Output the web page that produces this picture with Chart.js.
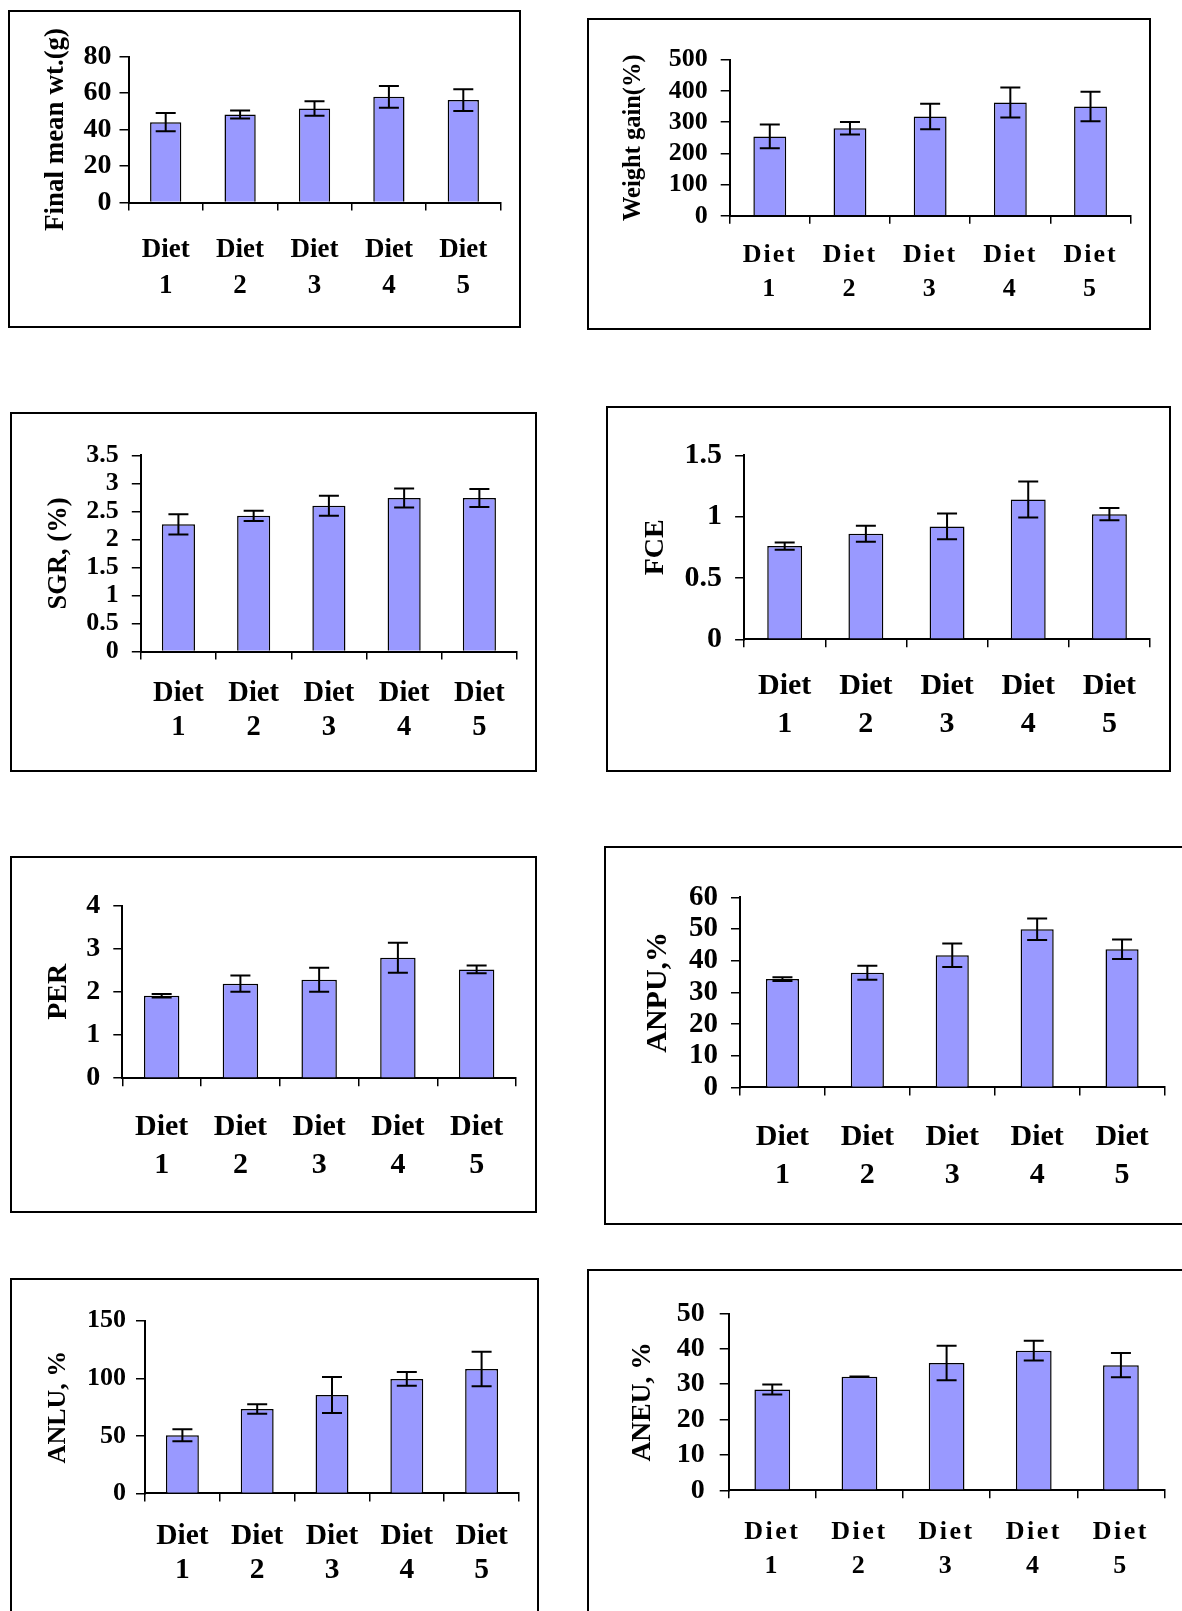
<!DOCTYPE html>
<html>
<head>
<meta charset="utf-8">
<title>Growth and nutrient utilisation by diet</title>
<script src="https://cdn.jsdelivr.net/npm/chart.js@4.4.1/dist/chart.umd.min.js"></script>
<style>
    html, body { margin: 0; padding: 0; background: #fff; }
    body { position: relative; width: 1182px; height: 1611px; overflow: hidden; }
    .frame { position: absolute; border: 2px solid #000; box-sizing: border-box; }
    canvas { position: absolute; }
</style>
</head>
<body>
<script>
// Diet groups on every x axis
const diets = ['Diet 1', 'Diet 2', 'Diet 3', 'Diet 4', 'Diet 5'];

// Means and +/- error
const finalWt = [44.0, 48.2, 51.5, 57.9, 56.1];
const finalWtErr = [5.0, 2.2, 4.0, 6.0, 6.0];
const weightGain = [254, 280, 318, 363, 350];
const weightGainErr = [38, 20, 41, 48, 47];
const sgr = [2.27, 2.42, 2.60, 2.74, 2.74];
const sgrErr = [0.18, 0.09, 0.18, 0.17, 0.16];
const fce = [0.76, 0.86, 0.92, 1.14, 1.02];
const fceErr = [0.03, 0.065, 0.105, 0.147, 0.05];
const per = [1.91, 2.19, 2.28, 2.79, 2.52];
const perErr = [0.04, 0.19, 0.28, 0.35, 0.09];
const anpu = [34.2, 36.2, 41.7, 49.9, 43.6];
const anpuErr = [0.6, 2.2, 3.7, 3.4, 3.1];
const anlu = [50.6, 73.3, 85.5, 99.4, 108.1];
const anluErr = [5.2, 4.2, 15.7, 6.0, 15.0];
const aneu = [28.5, 32.1, 36.0, 39.5, 35.4];
const aneuErr = [1.4, 0.05, 4.9, 2.8, 3.4];

// Y tick labels
const finalWtTicks = [0, 20, 40, 60, 80];
const weightGainTicks = [0, 100, 200, 300, 400, 500];
const sgrTicks = [0, 0.5, 1, 1.5, 2, 2.5, 3, 3.5];
const fceTicks = [0, 0.5, 1, 1.5];
const perTicks = [0, 1, 2, 3, 4];
const anpuTicks = [0, 10, 20, 30, 40, 50, 60];
const anluTicks = [0, 50, 100, 150];
const aneuTicks = [0, 10, 20, 30, 40, 50];

const FONT = "'Liberation Serif', 'Times New Roman', serif";
const BAR_COLOR = '#9999FF';

// error bars; also turns on letter spacing for the x labels,
// which are drawn after the datasets (ticks.z = 1)
const errorBars = {
    id: 'errorBars',
    afterDatasetsDraw(chart, args, opts) {
        const ctx = chart.ctx;
        const yScale = chart.scales.y;
        const vals = chart.data.datasets[0].data;
        const meta = chart.getDatasetMeta(0);
        ctx.save();
        ctx.strokeStyle = '#000';
        ctx.lineWidth = 2;
        meta.data.forEach((bar, i) => {
            const top = yScale.getPixelForValue(vals[i] + opts.errors[i]);
            const bot = yScale.getPixelForValue(vals[i] - opts.errors[i]);
            const hw = opts.capWidth / 2;
            ctx.beginPath();
            ctx.moveTo(bar.x, top); ctx.lineTo(bar.x, bot);
            ctx.moveTo(bar.x - hw, top); ctx.lineTo(bar.x + hw, top);
            ctx.moveTo(bar.x - hw, bot); ctx.lineTo(bar.x + hw, bot);
            ctx.stroke();
        });
        ctx.restore();
        ctx.letterSpacing = (opts.letterSpacing || 0) + 'px';
    },
    afterDraw(chart) {
        chart.ctx.letterSpacing = '0px';
    }
};

const panels = [
    { title: 'Final mean wt.(g)', values: finalWt, errors: finalWtErr, ticks: finalWtTicks,
      box: [8, 10, 521, 328], axis: [128.5, 56.5, 500.5, 202.5], titleX: 56.5,
      titleFs: 27, tickFs: 28, tickPad: 8, xFs: 27, labelY: 249.7, gap: 36, bar: 0.42, spacing: 0 },
    { title: 'Weight gain(%)', values: weightGain, errors: weightGainErr, ticks: weightGainTicks,
      box: [587, 17.5, 1151, 330], axis: [729.7, 59.6, 1130.6, 215.8], titleX: 634,
      titleFs: 24.5, tickFs: 26, tickPad: 13, xFs: 26, labelY: 255.5, gap: 34, bar: 0.41, spacing: 2 },
    { title: 'SGR, (%)', values: sgr, errors: sgrErr, ticks: sgrTicks,
      box: [10, 412, 536.5, 772], axis: [140.8, 455.3, 517, 651.6], titleX: 59.6,
      titleFs: 26.5, tickFs: 26, tickPad: 13, xFs: 28.5, labelY: 693.7, gap: 34, bar: 0.44, spacing: 0 },
    { title: 'FCE', values: fce, errors: fceErr, ticks: fceTicks,
      box: [606, 406, 1170.6, 772], axis: [744.1, 455.3, 1150, 639.3], titleX: 655.7,
      titleFs: 28, tickFs: 30, tickPad: 13, xFs: 30, labelY: 686.5, gap: 38, bar: 0.43, spacing: 0 },
    { title: 'PER', values: per, errors: perErr, ticks: perTicks,
      box: [10, 856, 536.5, 1213], axis: [122.3, 905.5, 516, 1078.2], titleX: 58.6,
      titleFs: 28, tickFs: 28, tickPad: 13, xFs: 30, labelY: 1127.5, gap: 38, bar: 0.45, spacing: 0 },
    { title: 'ANPU,%', values: anpu, errors: anpuErr, ticks: anpuTicks,
      box: [604, 846, 1200, 1225], axis: [740, 897.3, 1164.5, 1087.4], titleX: 657.8,
      titleFs: 30, tickFs: 29, tickPad: 13, xFs: 30, labelY: 1137, gap: 38, bar: 0.39, spacing: 0 },
    { title: 'ANLU, %', values: anlu, errors: anluErr, ticks: anluTicks,
      box: [10, 1277.5, 538.5, 1630], axis: [145, 1320.7, 519, 1493.4], titleX: 58.6,
      titleFs: 26, tickFs: 26, tickPad: 10, xFs: 29.5, labelY: 1536.5, gap: 34, bar: 0.44, spacing: 0 },
    { title: 'ANEU, %', values: aneu, errors: aneuErr, ticks: aneuTicks,
      box: [587, 1269, 1200, 1630], axis: [728.7, 1313.5, 1164.5, 1490.3], titleX: 642.4,
      titleFs: 27.5, tickFs: 28, tickPad: 15, xFs: 26, labelY: 1532.5, gap: 34, bar: 0.41, spacing: 2.5 }
];

function drawPanel(p) {
    const frame = document.createElement('div');
    frame.className = 'frame';
    frame.style.left = p.box[0] + 'px';
    frame.style.top = p.box[1] + 'px';
    frame.style.width = (p.box[2] - p.box[0]) + 'px';
    frame.style.height = (p.box[3] - p.box[1]) + 'px';
    document.body.appendChild(frame);

    const left = Math.round(p.box[0]);
    const top = Math.round(p.box[1]);
    const width = Math.min(Math.round(p.box[2]), 1182) - left;
    const height = Math.min(Math.round(p.box[3]), 1611) - top;
    const canvas = document.createElement('canvas');
    canvas.width = width;
    canvas.height = height;
    canvas.style.left = left + 'px';
    canvas.style.top = top + 'px';
    document.body.appendChild(canvas);

    // work out paddings so the plot area lands where it is in the figure
    const padLeft = p.titleX - p.titleFs * 0.6 - left;
    const yWidth = p.axis[0] - left - padLeft;
    const padTop = p.axis[1] - top;
    const padRight = width - (p.axis[2] - left);
    const xHeight = height - (p.axis[3] - top);
    const xTickLen = 8;
    const xPad = p.labelY - p.axis[3] - xTickLen - p.gap / 2;

    new Chart(canvas, {
        type: 'bar',
        data: {
            labels: diets.map(d => d.split(' ')),
            datasets: [{
                data: p.values,
                backgroundColor: BAR_COLOR,
                borderColor: '#000',
                borderWidth: 1.5,
                categoryPercentage: 1,
                barPercentage: p.bar
            }]
        },
        options: {
            responsive: false,
            maintainAspectRatio: false,
            animation: false,
            devicePixelRatio: 1,
            layout: { padding: { left: padLeft, top: padTop, right: padRight, bottom: 0 } },
            plugins: {
                legend: { display: false },
                tooltip: { enabled: false },
                errorBars: { errors: p.errors, capWidth: 20, letterSpacing: p.spacing }
            },
            scales: {
                x: {
                    offset: true,
                    grid: { offset: true, drawOnChartArea: false, tickLength: xTickLen, color: '#000', lineWidth: 1.5 },
                    border: { color: '#000', width: 2 },
                    ticks: {
                        z: 1,
                        color: '#000',
                        padding: xPad,
                        autoSkip: false,
                        maxRotation: 0,
                        font: { family: FONT, weight: 'bold', size: p.xFs, lineHeight: p.gap / p.xFs }
                    },
                    afterFit: s => { s.height = xHeight; }
                },
                y: {
                    min: p.ticks[0],
                    max: p.ticks[p.ticks.length - 1],
                    afterBuildTicks: s => { s.ticks = p.ticks.map(v => ({ value: v })); },
                    grid: { drawOnChartArea: false, tickLength: 9, color: '#000', lineWidth: 1.5 },
                    border: { color: '#000', width: 2 },
                    ticks: {
                        color: '#000',
                        padding: p.tickPad,
                        autoSkip: false,
                        callback: v => String(v),
                        font: { family: FONT, weight: 'bold', size: p.tickFs, lineHeight: 1.1 }
                    },
                    title: {
                        display: true,
                        text: p.title,
                        color: '#000',
                        padding: 0,
                        font: { family: FONT, weight: 'bold', size: p.titleFs, lineHeight: 1.2 }
                    },
                    afterFit: s => { s.width = yWidth; }
                }
            }
        },
        plugins: [errorBars]
    });
}

panels.forEach(drawPanel);
</script>
</body>
</html>
